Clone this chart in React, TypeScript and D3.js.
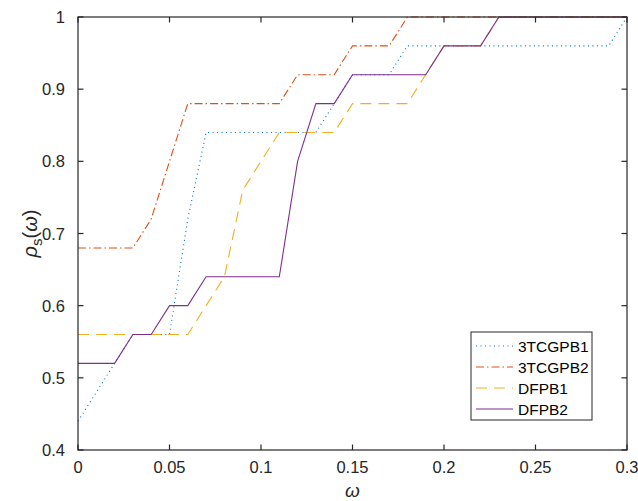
import React from "react";
import * as d3 from "d3";

// Performance profiles: fraction of problems solved within factor ω
const omega = [
  0, 0.01, 0.02, 0.03, 0.04, 0.05, 0.06, 0.07, 0.08, 0.09, 0.1,
  0.11, 0.12, 0.13, 0.14, 0.15, 0.16, 0.17, 0.18, 0.19, 0.2,
  0.21, 0.22, 0.23, 0.24, 0.25, 0.26, 0.27, 0.28, 0.29, 0.3,
];

const tcgpb1 = [
  0.44, 0.48, 0.52, 0.56, 0.56, 0.56, 0.72, 0.84, 0.84, 0.84, 0.84,
  0.84, 0.84, 0.84, 0.88, 0.92, 0.92, 0.92, 0.96, 0.96, 0.96,
  0.96, 0.96, 0.96, 0.96, 0.96, 0.96, 0.96, 0.96, 0.96, 1.0,
];

const tcgpb2 = [
  0.68, 0.68, 0.68, 0.68, 0.72, 0.8, 0.88, 0.88, 0.88, 0.88, 0.88,
  0.88, 0.92, 0.92, 0.92, 0.96, 0.96, 0.96, 1.0, 1.0, 1.0,
  1.0, 1.0, 1.0, 1.0, 1.0, 1.0, 1.0, 1.0, 1.0, 1.0,
];

const dfpb1 = [
  0.56, 0.56, 0.56, 0.56, 0.56, 0.56, 0.56, 0.6, 0.64, 0.76, 0.8,
  0.84, 0.84, 0.84, 0.84, 0.88, 0.88, 0.88, 0.88, 0.92, 0.96,
  0.96, 0.96, 1.0, 1.0, 1.0, 1.0, 1.0, 1.0, 1.0, 1.0,
];

const dfpb2 = [
  0.52, 0.52, 0.52, 0.56, 0.56, 0.6, 0.6, 0.64, 0.64, 0.64, 0.64,
  0.64, 0.8, 0.88, 0.88, 0.92, 0.92, 0.92, 0.92, 0.92, 0.96,
  0.96, 0.96, 1.0, 1.0, 1.0, 1.0, 1.0, 1.0, 1.0, 1.0,
];

const seriesNames = ["3TCGPB1", "3TCGPB2", "DFPB1", "DFPB2"];
const xTicks = [0, 0.05, 0.1, 0.15, 0.2, 0.25, 0.3];
const yTicks = [0.4, 0.5, 0.6, 0.7, 0.8, 0.9, 1];

const W = 638;
const H = 501;
const plot = { left: 78, right: 627, top: 17, bottom: 450 };
const FONT = "'Liberation Sans', Arial, Helvetica, sans-serif";
const AXIS = "#262626";

const styles = [
  { color: "#0072BD", dash: "1,3.5" },
  { color: "#D95319", dash: "8,3,1.5,3" },
  { color: "#EDB120", dash: "11,7" },
  { color: "#7E2F8E", dash: "" },
];

export default function App() {
  const x = d3.scaleLinear().domain([0, 0.3]).range([plot.left, plot.right]);
  const y = d3.scaleLinear().domain([0.4, 1]).range([plot.bottom, plot.top]);
  const line = d3
    .line<[number, number]>()
    .x((d) => x(d[0]))
    .y((d) => y(d[1]));

  const allSeries = [tcgpb1, tcgpb2, dfpb1, dfpb2];
  const tick = 5.5;
  const fmt = (v: number) => String(+v.toFixed(2));

  const legend = { x: 471, y: 332, w: 121, h: 88 };

  return (
    <svg
      width={W}
      height={H}
      style={{ position: "absolute", left: 0, top: 0, background: "#fff" }}
      fontFamily={FONT}
    >
      <rect x={0} y={0} width={W} height={H} fill="#fff" />
      <defs>
        <clipPath id="plotClip">
          <rect
            x={plot.left - 1}
            y={plot.top - 1}
            width={plot.right - plot.left + 2}
            height={plot.bottom - plot.top + 2}
          />
        </clipPath>
      </defs>

      {/* data lines */}
      <g clipPath="url(#plotClip)">
        {allSeries.map((vals, i) => (
          <path
            key={seriesNames[i]}
            d={line(omega.map((w, k) => [w, vals[k]] as [number, number])) || ""}
            fill="none"
            stroke={styles[i].color}
            strokeWidth={1.1}
            strokeDasharray={styles[i].dash || undefined}
          />
        ))}
      </g>

      {/* axes box */}
      <rect
        x={plot.left}
        y={plot.top}
        width={plot.right - plot.left}
        height={plot.bottom - plot.top}
        fill="none"
        stroke={AXIS}
        strokeWidth={1.2}
      />

      {/* x ticks */}
      {xTicks.map((t) => (
        <g key={"x" + t}>
          <line x1={x(t)} x2={x(t)} y1={plot.bottom} y2={plot.bottom - tick} stroke={AXIS} strokeWidth={1.2} />
          <line x1={x(t)} x2={x(t)} y1={plot.top} y2={plot.top + tick} stroke={AXIS} strokeWidth={1.2} />
          <text x={x(t)} y={plot.bottom + 23} textAnchor="middle" fontSize={16.5} fill={AXIS}>
            {fmt(t)}
          </text>
        </g>
      ))}

      {/* y ticks */}
      {yTicks.map((t) => (
        <g key={"y" + t}>
          <line x1={plot.left} x2={plot.left + tick} y1={y(t)} y2={y(t)} stroke={AXIS} strokeWidth={1.2} />
          <line x1={plot.right} x2={plot.right - tick} y1={y(t)} y2={y(t)} stroke={AXIS} strokeWidth={1.2} />
          <text x={plot.left - 13} y={y(t) + 6} textAnchor="end" fontSize={16.5} fill={AXIS}>
            {fmt(t)}
          </text>
        </g>
      ))}

      {/* axis labels */}
      <text x={(plot.left + plot.right) / 2} y={497} textAnchor="middle" fontSize={19} fill={AXIS}>
        <tspan fontStyle="italic">ω</tspan>
      </text>
      <text
        transform={`translate(37, ${(plot.top + plot.bottom) / 2}) rotate(-90)`}
        textAnchor="middle"
        fontSize={20}
        fill={AXIS}
      >
        <tspan fontStyle="italic">ρ</tspan>
        <tspan fontSize={15} dy={5}>s</tspan>
        <tspan dy={-5}>(</tspan>
        <tspan fontStyle="italic">ω</tspan>
        <tspan>)</tspan>
      </text>

      {/* legend */}
      <g>
        <rect
          x={legend.x}
          y={legend.y}
          width={legend.w}
          height={legend.h}
          fill="#fff"
          stroke={AXIS}
          strokeWidth={1}
        />
        {seriesNames.map((name, i) => {
          const ly = legend.y + 14 + i * 21;
          return (
            <g key={name}>
              <line
                x1={legend.x + 5}
                x2={legend.x + 42}
                y1={ly}
                y2={ly}
                stroke={styles[i].color}
                strokeWidth={1.1}
                strokeDasharray={styles[i].dash || undefined}
              />
              <text x={legend.x + 47} y={ly + 5.5} fontSize={15.5} fill="#000">
                {name}
              </text>
            </g>
          );
        })}
      </g>
    </svg>
  );
}
